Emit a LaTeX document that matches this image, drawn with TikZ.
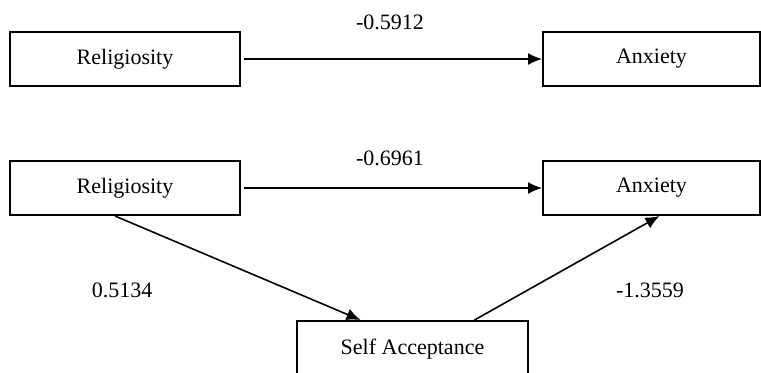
\documentclass[tikz,border=0pt]{standalone}
\usepackage{fontspec}
\setmainfont{Liberation Serif}
\usetikzlibrary{arrows.meta, positioning, calc}

\begin{document}
\begin{tikzpicture}[
  x=0.5pt, y=-0.5pt,
  every node/.style={font=\fontsize{11}{13}\selectfont},
  varbox/.style={draw, line width=1pt, minimum height=27pt, inner sep=0pt},
  path/.style={draw, line width=0.8pt, -{Latex[length=7pt, width=6pt]}}
]
\useasboundingbox (0,0) rectangle (761,372);
\clip (0,0) rectangle (761,372);

% total effect
\node[varbox, minimum width=115pt] (rel1) at (125,59) {Religiosity};
\node[varbox, minimum width=108.5pt] (anx1) at (651.5,59) {Anxiety};
\draw[path, shorten <=1.5pt] (rel1) -- (anx1);
\node (c1) at (390,22) {-0.5912};

% mediated model
\node[varbox, minimum width=115pt] (rel2) at (125,188) {Religiosity};
\node[varbox, minimum width=108.5pt] (anx2) at (651.5,188) {Anxiety};
\node[varbox, minimum width=115.5pt, minimum height=28pt] (sa) at (412.5,349) {Self Acceptance};
\draw[path, shorten <=1.5pt] (rel2) -- (anx2);
\draw[path] ([xshift=-5pt]rel2.south) -- ([xshift=-26pt]sa.north);
\draw[path] ([xshift=31pt]sa.north) -- ([xshift=4pt]anx2.south);
\node (c2) at (390,158) {-0.6961};
\node (a) at (122,290) {0.5134};
\node (b) at (650,290) {-1.3559};
\end{tikzpicture}
\end{document}
